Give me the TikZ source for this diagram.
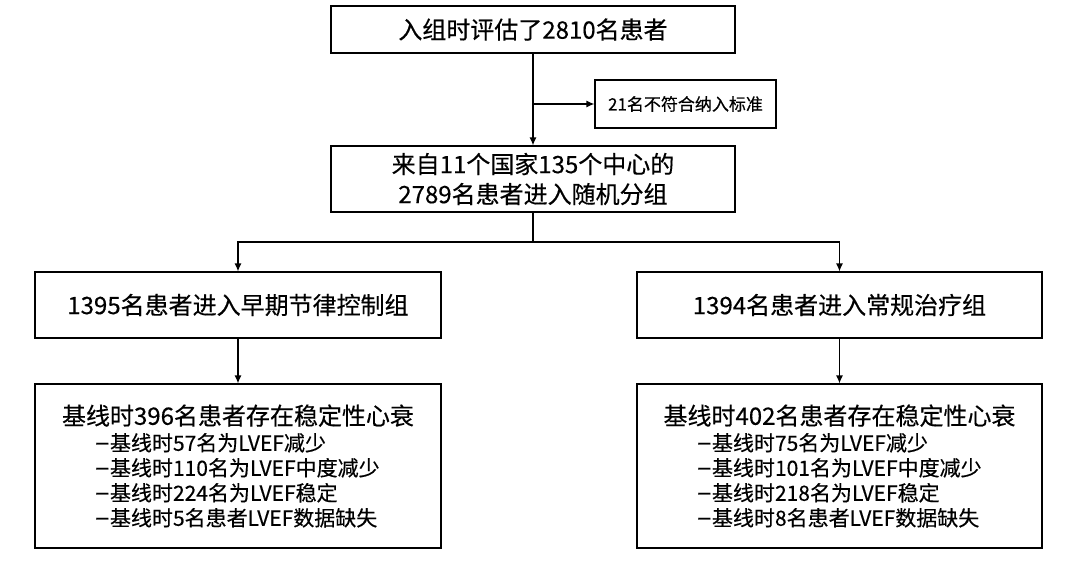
\documentclass[tikz,border=0pt]{standalone}
\usepackage{fontspec}
\setmainfont{Noto Sans CJK SC}[FakeBold=0.4]
\usetikzlibrary{arrows.meta}

\newcommand{\itemdash}{\makebox[15pt][l]{\scalebox{1.3}[1.2]{–}}}

\begin{document}
\begin{tikzpicture}[x=1pt,y=-1pt,->,>={Latex[length=8pt,width=7pt]},line width=1.2pt,
    main box/.style={draw,rectangle,inner sep=0pt,align=center,minimum width=404pt,font=\fontsize{24}{30}\selectfont},
    side box/.style={draw,rectangle,inner sep=0pt,minimum width=181pt,minimum height=48pt,font=\fontsize{17}{20}\selectfont},
    list box/.style={draw,rectangle,inner sep=0pt,text width=406pt,minimum height=164pt,align=left,font=\fontsize{21}{25}\selectfont}]

            \useasboundingbox (0,0) rectangle (1080,576);

            \node[main box, minimum height=47pt] (1) at (533,29.5) {入组时评估了2810名患者};
            \node[side box] (2) at (685.5,104) {21名不符合纳入标准};
            \node[main box, minimum height=66pt] (3) at (533,179) {来自11个国家135个中心的\\2789名患者进入随机分组};
            \node[main box, minimum width=406pt, minimum height=66pt] (4) at (238,305) {1395名患者进入早期节律控制组};
            \node[main box, minimum width=405pt, minimum height=66pt] (5) at (839.5,305) {1394名患者进入常规治疗组};
            \node[list box] (6) at (238,466) {{\fontsize{24}{27}\selectfont\makebox[\linewidth]{基线时396名患者存在稳定性心衰}}\\[1pt]
                \hspace*{60pt}\itemdash 基线时57名为LVEF减少\\
                \hspace*{60pt}\itemdash 基线时110名为LVEF中度减少\\
                \hspace*{60pt}\itemdash 基线时224名为LVEF稳定\\
                \hspace*{60pt}\itemdash 基线时5名患者LVEF数据缺失};
            \node[list box, text width=405pt] (7) at (839.5,466) {{\fontsize{24}{27}\selectfont\makebox[\linewidth]{基线时402名患者存在稳定性心衰}}\\[1pt]
                \hspace*{60pt}\itemdash 基线时75名为LVEF减少\\
                \hspace*{60pt}\itemdash 基线时101名为LVEF中度减少\\
                \hspace*{60pt}\itemdash 基线时218名为LVEF稳定\\
                \hspace*{60pt}\itemdash 基线时8名患者LVEF数据缺失};

            \coordinate (split) at (533,242);

            \draw[->] (1) to (3);
            \draw[->] (1 |- 2.west) to (2);
            \draw[-] (3) to (split);
            \draw[->] (split) -| (4);
            \draw[->] (split) -| (5);
            \draw[->] (4) to (6);
            \draw[->] (5) to (7);

            ;
        \end{tikzpicture}
\end{document}
